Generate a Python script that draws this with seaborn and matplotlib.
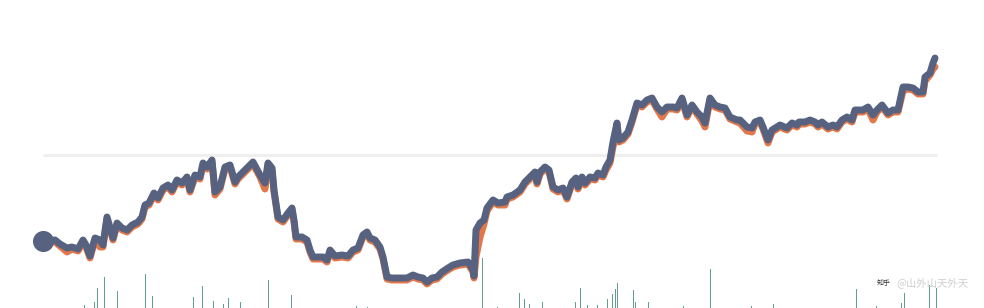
import numpy as np
import pandas as pd
import matplotlib
matplotlib.use("Agg")
import matplotlib.pyplot as plt
import seaborn as sns

# ---- data ----
days = [0, 12, 17, 24, 29, 35, 40, 43, 47, 52, 57, 60, 64, 70, 74, 79, 84, 89, 95, 99,
        102, 106, 111, 115, 120, 125, 129, 134, 139, 144, 147, 152, 157, 160, 164, 169, 172, 177, 182, 187,
        192, 195, 202, 210, 217, 222, 225, 229, 231, 235, 240, 245, 249, 251, 253, 259, 264, 267, 270, 275,
        280, 284, 287, 292, 299, 305, 310, 315, 320, 324, 327, 332, 337, 340, 344, 349, 357, 364, 370, 375,
        380, 384, 389, 394, 399, 405, 410, 417, 425, 430, 431, 433, 437, 441, 444, 450, 455, 462, 464, 470,
        477, 482, 487, 492, 494, 497, 502, 506, 510, 515, 520, 524, 529, 533, 535, 539, 542, 547, 552, 555,
        560, 563, 567, 570, 574, 576, 580, 585, 589, 594, 599, 604, 609, 614, 619, 624, 630, 634, 639, 644,
        649, 654, 659, 662, 667, 672, 677, 682, 687, 694, 697, 704, 709, 712, 717, 720, 725, 729, 737, 744,
        749, 754, 756, 762, 767, 772, 775, 779, 785, 790, 794, 799, 804, 809, 812, 820, 825, 830, 834, 839,
        845, 850, 855, 860, 865, 870, 875, 880, 882, 887, 890, 892]

strategy = [0, 0.5, -1.5, -3.5, -3, -4, 0.5, -2, -7.5, 1.5, 0.5, -2, 12, 1.5, 9, 6.5, 5.5, 8, 9.5, 12,
            18, 19, 24, 21.5, 26.5, 28, 25.5, 30.5, 29, 32, 25.5, 33, 32, 39, 37, 40.5, 24.5, 27, 37, 38,
            29.5, 32, 35.5, 39.5, 33, 29, 39, 36.5, 25.5, 12, 10.5, 14, 16.5, 10.5, 2, 2, 0.5, -4.5, -8, -8,
            -8, -9.5, -4.5, -7.5, -7, -7.5, -4.5, -3.5, 3, 4.5, 1.5, 0.5, -3, -8, -18, -18.5, -18.5, -18.5, -17, -18,
            -18.5, -20.5, -18.5, -18, -15.5, -13.5, -12, -11, -10.5, -14.5, -17.5, 5.5, 9, 10.5, 16.5, 20.5, 19, 19.5, 22, 23,
            25.5, 29.5, 32, 34.5, 29.5, 34.5, 37, 35.5, 27, 25.5, 26.5, 22, 29.5, 31.5, 27, 32, 29, 32, 31.5, 34,
            33, 37, 40.5, 49.5, 59, 50.5, 51.5, 54.5, 60.5, 69, 68, 70.5, 71.5, 67, 64.5, 67, 67, 66.5, 71.5, 63,
            68, 64.5, 62, 59, 71.5, 68, 67, 66.5, 62, 60.5, 60.5, 57, 56.5, 59.5, 60.5, 57, 50.5, 55.5, 58, 56.5,
            59, 58, 59.5, 59.5, 60.5, 59.5, 58, 59.5, 57, 58, 57, 60.5, 62, 60.5, 65.5, 65.5, 67, 63, 65.5, 68,
            64, 65.5, 65.5, 77, 77, 76.5, 74.5, 74.5, 82, 84, 89, 91.5]

benchmark = [0, -0.5, -2.5, -5.5, -4, -5, -0.5, -3, -8.5, 0.5, -3, -3, 11, 0.5, 8, 5.5, 4.5, 7, 8.5, 11,
             17, 18, 23, 20.5, 25.5, 27, 24.5, 29.5, 28, 31, 24.5, 32, 31, 38, 36, 39.5, 23, 26, 36, 37,
             28.5, 31, 34.5, 38.5, 32, 26, 38, 35.5, 24.5, 11, 9.5, 13, 15.5, 9.5, 1, 1, -0.5, -5.5, -9, -9,
             -9, -10.5, -5.5, -8.5, -8, -8.5, -5.5, -4.5, 2, 3.5, 0.5, -0.5, -4, -9, -19, -19.5, -19.5, -19.5, -18, -19,
             -19.5, -21.5, -19.5, -19, -16.5, -14.5, -13, -12, -11.5, -15.5, -18.5, -8, 2, 8.5, 15, 19.5, 18, 18, 21, 22,
             24.5, 28.5, 31, 33.5, 28.5, 33.5, 36, 34.5, 26, 24.5, 25.5, 21, 28.5, 30.5, 26, 31, 28, 31, 30.5, 33,
             32, 35.5, 39, 47, 56, 49.5, 50.5, 53.5, 59.5, 68, 67, 69.5, 70.5, 66, 62, 66, 66, 65.5, 70.5, 62,
             67, 63.5, 60, 57, 70.5, 67, 66, 65.5, 61, 59.5, 59, 55, 54.5, 58.5, 59.5, 56, 49, 54.5, 57, 55.5,
             58, 57, 58.5, 58.5, 59.5, 58.5, 57, 58.5, 56, 57, 56, 59.5, 61, 59.5, 64.5, 64.5, 66, 60.5, 64.5, 67,
             63, 64.5, 64.5, 75, 76, 75.5, 73.5, 73.5, 80, 83, 86, 87]

bar_days = [41, 51, 54, 61, 74, 102, 109, 150, 159, 170, 180, 185, 197, 225, 248, 313, 324, 439, 454, 476,
            481, 486, 499, 532, 537, 544, 554, 564, 569, 572, 574, 590, 592, 605, 640, 667, 708, 730, 813, 833,
            858, 861, 886, 893]
bar_volume = [3, 6, 20, 31, 17, 34, 12, 11, 22, 7, 4, 10, 6, 28, 13, 2, 1, 50, 1, 15,
              9, 4, 6, 6, 20, 3, 3, 9, 14, 19, 25, 18, 6, 6, 2, 39, 2, 4, 19, 2,
              5, 15, 23, 20]

reference_level = 43
watermark = "@山外山天外天"
logo = "知乎"

# ---- style ----
sns.set_theme(style="white")
plt.rcParams['font.family'] = ['Noto Sans CJK SC', 'DejaVu Sans']

DARK = "#56627f"
ORANGE = "#e2774a"
GREEN = "#62a088"

fig = plt.figure(figsize=(9.84, 3.08), dpi=100)
ax = fig.add_axes([0, 0, 1, 1])

ax2 = ax.twinx()
ax2.set_ylim(0, 308)
ax2.set_xlim(-43, 941)
ax2.axis("off")
ax2.bar(bar_days, bar_volume, width=1.0, color=GREEN, linewidth=0, zorder=1)

ax.set_zorder(ax2.get_zorder() + 1)
ax.patch.set_visible(False)

ax.hlines(reference_level, days[0], days[-1] + 2, color="#efefef", lw=2.2, zorder=1)

df = pd.DataFrame({"day": days, "strategy": strategy, "benchmark": benchmark})
sns.lineplot(data=df, x="day", y="benchmark", ax=ax, color=ORANGE, lw=5.0,
             solid_joinstyle="round", solid_capstyle="round", zorder=2)
sns.lineplot(data=df, x="day", y="strategy", ax=ax, color=DARK, lw=5.0,
             solid_joinstyle="round", solid_capstyle="round", zorder=3)
ax.scatter([days[0]], [strategy[0]], s=230, color=DARK, zorder=4, clip_on=False, linewidths=0)
ax.set_xlim(-43, 941)
ax.set_ylim(-33.5, 120.5)
ax.axis("off")

fig.text(884 / 984, 1 - 283 / 308, logo, fontsize=5, color="#333333", ha="center", va="center")
fig.text(896 / 984, 1 - 283 / 308, watermark, fontsize=7.5, color="#cfcfcf", ha="left", va="center")

fig.savefig("out.png", dpi=100)
